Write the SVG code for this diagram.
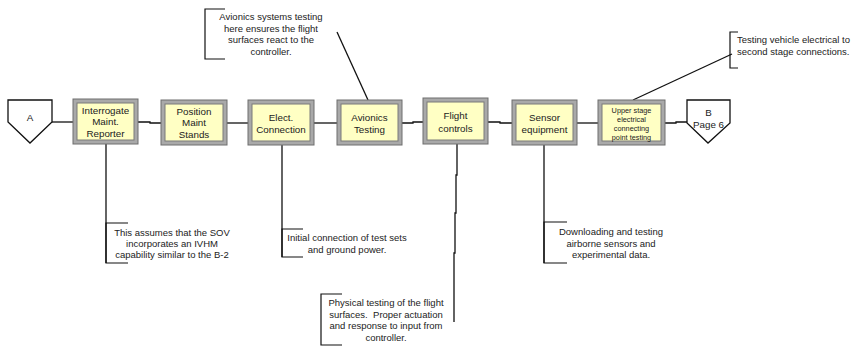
<svg xmlns="http://www.w3.org/2000/svg" width="856" height="346" viewBox="0 0 856 346">
<style>
  .bg{fill:#ffffff}
  .outer{fill:#a9a9a9;stroke:#6e6e6e;stroke-width:1}
  .inner{fill:#ffffc4;stroke:#7a7a7a;stroke-width:1}
  .off{fill:#ffffff;stroke:#111;stroke-width:1.3}
  .t{font-family:"Liberation Sans",Arial,sans-serif;font-size:9.8px;fill:#222;text-anchor:middle}
  .ts{font-family:"Liberation Sans",Arial,sans-serif;font-size:7.3px;fill:#222;text-anchor:middle}
  .n{font-family:"Liberation Sans",Arial,sans-serif;font-size:9.5px;fill:#222;text-anchor:middle}
  .nl{font-family:"Liberation Sans",Arial,sans-serif;font-size:9.5px;fill:#222;text-anchor:start}
  .ln{fill:none;stroke:#111;stroke-width:1.3}
  .br{fill:none;stroke:#111;stroke-width:1.2}
</style>
<rect class="bg" x="0" y="0" width="856" height="346"/>

<g id="connectors">
  <polyline class="ln" points="52,122 73,122"/>
  <polyline class="ln" points="138,122 150,122 150,123 161,123"/>
  <polyline class="ln" points="227,123 248,123"/>
  <polyline class="ln" points="314,123 337,123"/>
  <polyline class="ln" points="402,123 413,123 413,122 423,122"/>
  <polyline class="ln" points="488,122 500,122 500,123 512,123"/>
  <polyline class="ln" points="577,123 598,123"/>
  <polyline class="ln" points="665,123 676,123 676,122 687,122"/>
  <polyline class="ln" points="106,144 106,263"/>
  <polyline class="ln" points="282,145 282,257"/>
  <polyline class="ln" points="544,145 544,263"/>
  <polyline class="ln" points="457,144 457,175 456,175 456,213 455,213 455,253 454,253 454,322"/>
  <line class="ln" x1="368" y1="100" x2="337" y2="32"/>
  <line class="ln" x1="633" y1="100" x2="732" y2="54"/>
</g>

<g id="nodeA">
  <polygon class="off" points="8,100 52,100 52,122 30,143 8,122"/>
  <text class="t" x="30" y="120.5">A</text>
</g>

<g id="node1">
  <rect class="outer" x="73" y="99" width="65" height="45"/>
  <rect class="inner" x="77" y="103" width="57" height="37"/>
  <text class="t" x="105.5" y="113.5">Interrogate</text>
  <text class="t" x="105.5" y="125">Maint.</text>
  <text class="t" x="105.5" y="136.5">Reporter</text>
</g>

<g id="node2">
  <rect class="outer" x="161" y="100" width="66" height="45"/>
  <rect class="inner" x="165" y="104" width="58" height="37"/>
  <text class="t" x="194" y="114.5">Position</text>
  <text class="t" x="194" y="126">Maint</text>
  <text class="t" x="194" y="137.5">Stands</text>
</g>

<g id="node3">
  <rect class="outer" x="248" y="100" width="66" height="45"/>
  <rect class="inner" x="252" y="104" width="58" height="37"/>
  <text class="t" x="281" y="120.5">Elect.</text>
  <text class="t" x="281" y="132.5">Connection</text>
</g>

<g id="node4">
  <rect class="outer" x="337" y="100" width="65" height="45"/>
  <rect class="inner" x="341" y="104" width="57" height="37"/>
  <text class="t" x="369.5" y="120.5">Avionics</text>
  <text class="t" x="369.5" y="132.5">Testing</text>
</g>

<g id="node5">
  <rect class="outer" x="423" y="98" width="65" height="46"/>
  <rect class="inner" x="427" y="102" width="57" height="38"/>
  <text class="t" x="455.5" y="118.5">Flight</text>
  <text class="t" x="455.5" y="131.5">controls</text>
</g>

<g id="node6">
  <rect class="outer" x="512" y="100" width="65" height="45"/>
  <rect class="inner" x="516" y="104" width="57" height="37"/>
  <text class="t" x="544.5" y="120.5">Sensor</text>
  <text class="t" x="544.5" y="132.5">equipment</text>
</g>

<g id="node7">
  <rect class="outer" x="598" y="100" width="67" height="45"/>
  <rect class="inner" x="602" y="104" width="59" height="37"/>
  <text class="ts" x="631.5" y="112.5">Upper stage</text>
  <text class="ts" x="631.5" y="121.5">electrical</text>
  <text class="ts" x="631.5" y="130.5">connecting</text>
  <text class="ts" x="631.5" y="139.5">point testing</text>
</g>

<g id="nodeB">
  <polygon class="off" points="687,100 730,100 730,123 708,143 687,123"/>
  <text class="t" x="708.5" y="115.5">B</text>
  <text class="t" x="708.5" y="127.5">Page 6</text>
</g>

<g id="note-avionics">
  <polyline class="br" points="225,9 205,9 205,59 225,59"/>
  <text class="n" x="271" y="20.3">Avionics systems testing</text>
  <text class="n" x="271" y="31.8">here ensures the flight</text>
  <text class="n" x="271" y="43.3">surfaces react to the</text>
  <text class="n" x="271" y="54.8">controller.</text>
</g>

<g id="note-upper">
  <polyline class="br" points="738,32 730,32 730,68 738,68"/>
  <text class="nl" x="737" y="43.3">Testing vehicle electrical to</text>
  <text class="nl" x="737" y="55.3">second stage connections.</text>
</g>

<g id="note-interrogate">
  <polyline class="br" points="128,223 106,223 106,263 128,263"/>
  <text class="n" x="172" y="235.5">This assumes that the SOV</text>
  <text class="n" x="172" y="246.8">incorporates an IVHM</text>
  <text class="n" x="172" y="258.3">capability similar to the B-2</text>
</g>

<g id="note-elect">
  <polyline class="br" points="303,229 282,229 282,257 303,257"/>
  <text class="n" x="347" y="240.5">Initial connection of test sets</text>
  <text class="n" x="347" y="252.5">and ground power.</text>
</g>

<g id="note-flight">
  <polyline class="br" points="342,294 321,294 321,345 342,345"/>
  <text class="n" x="386" y="306.3">Physical testing of the flight</text>
  <text class="n" x="386" y="317.8" xml:space="preserve">surfaces.  Proper actuation</text>
  <text class="n" x="386" y="329.3">and response to input from</text>
  <text class="n" x="386" y="340.8">controller.</text>
</g>

<g id="note-sensor">
  <polyline class="br" points="567,222 544,222 544,263 567,263"/>
  <text class="n" x="611" y="235.3">Downloading and testing</text>
  <text class="n" x="611" y="246.8">airborne sensors and</text>
  <text class="n" x="611" y="258.3">experimental data.</text>
</g>
</svg>
